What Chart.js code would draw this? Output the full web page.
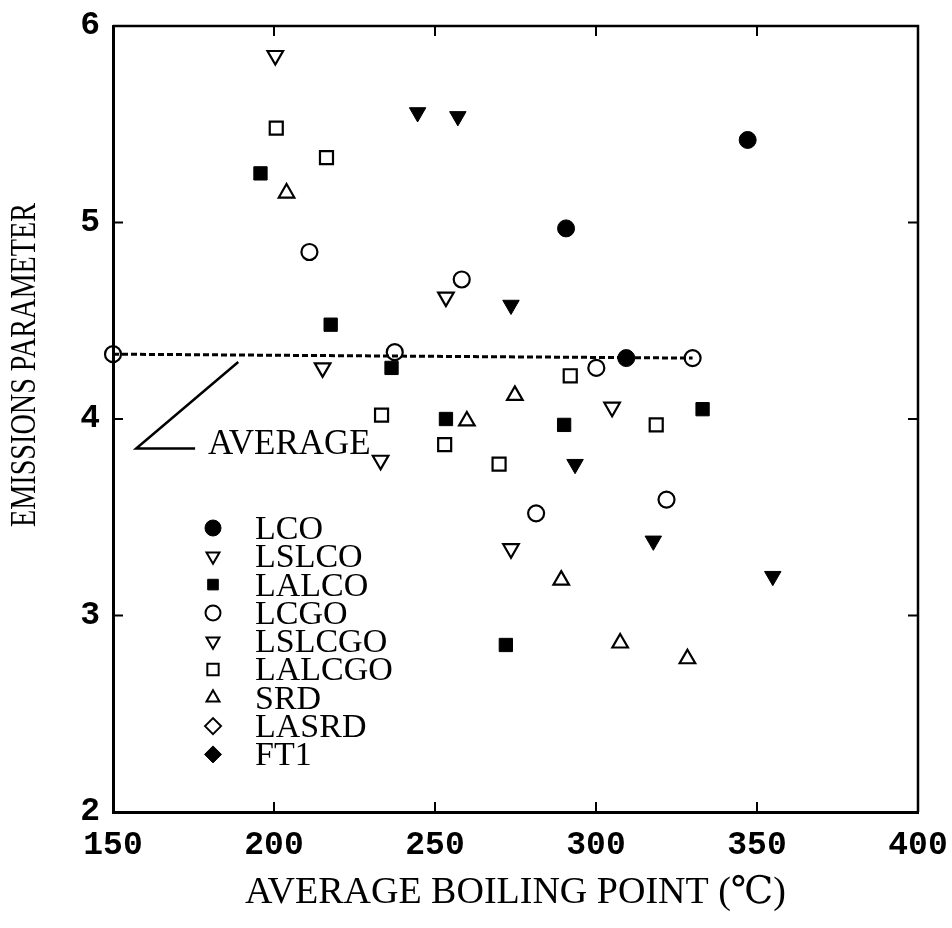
<!DOCTYPE html>
<html>
<head>
<meta charset="utf-8">
<title>Emissions parameter vs average boiling point</title>
<script src="https://cdn.jsdelivr.net/npm/chart.js@4.4.1/dist/chart.umd.min.js"></script>
<style>
    body { margin: 0; background: #ffffff; }
    #chartBox { width: 952px; height: 928px; }
</style>
</head>
<body>
<div id="chartBox"><canvas id="chart" width="952" height="928"></canvas></div>
<script>
// Legend names, in the order of the legend
var seriesNames = ["LCO", "LSLCO", "LALCO", "LCGO", "LSLCGO", "LALCGO", "SRD", "LASRD", "FT1"];

// Average boiling point (deg C) and emissions parameter of each fuel
var lcoX = [290.7, 309.4, 347.1];
var lcoY = [4.97, 4.31, 5.42];

var lslcoX = [200.4, 215.1, 233.1];
var lslcoY = [5.85, 4.26, 3.79];

var lalcoX = [195.8, 217.6, 236.5, 253.4, 272.0, 290.1, 333.1];
var lalcoY = [5.25, 4.48, 4.26, 4.00, 2.85, 3.97, 4.05];

var lcgoX = [150.0, 211.0, 237.5, 258.3, 281.4, 300.1, 321.9, 330.0];
var lcgoY = [4.33, 4.85, 4.34, 4.71, 3.52, 4.26, 3.59, 4.31];

var lslcgoX = [253.4, 273.6, 305.0];
var lslcgoY = [4.62, 3.34, 4.06];

var lalcgoX = [200.7, 216.3, 233.4, 253.0, 269.9, 292.0, 318.7];
var lalcgoY = [5.48, 5.33, 4.02, 3.87, 3.77, 4.22, 3.97];

var srdX = [203.9, 259.9, 274.8, 289.2, 307.5, 328.4];
var srdY = [5.15, 3.99, 4.12, 3.18, 2.86, 2.78];

var lasrdX = [];
var lasrdY = [];

var ft1X = [244.6, 257.1, 273.6, 293.5, 317.8, 354.9];
var ft1Y = [5.56, 5.54, 4.58, 3.77, 3.38, 3.20];

// Dashed average line and the pointer to its label
var averageX = [150, 330];
var averageY = [4.33, 4.31];
var pointerX = [188.9, 157.2, 175.5];
var pointerY = [4.29, 3.85, 3.85];
var averageLabel = "AVERAGE";
var averageLabelX = 179.5;
var averageLabelY = 3.82;

// Axis ticks
var xTicks = [150, 200, 250, 300, 350, 400];
var yTicks = [2, 3, 4, 5, 6];

var xTitle = "AVERAGE BOILING POINT (\u2103)";
var yTitle = "EMISSIONS PARAMETER";

function toPoints(xs, ys)
{
    return xs.map(function(x, i) {
        return { x: x, y: ys[i] };
    });
}

// Marker style of each series (plot and legend)
function markerSet(name, xs, ys, style, rotation, filled, radius)
{
    return {
        label: name,
        data: toPoints(xs, ys),
        pointStyle: style,
        rotation: rotation,
        pointRadius: radius,
        pointHoverRadius: radius,
        pointBackgroundColor: filled ? "#000000" : "rgba(0,0,0,0)",
        pointBorderColor: "#000000",
        pointBorderWidth: filled ? 1 : 2.2,
        showLine: false,
        clip: false,
        order: 0
    };
}

var legendMarkers = [
    { style: "circle", rotation: 0, filled: true, radius: 8 },
    { style: "triangle", rotation: 180, filled: false, radius: 7.5 },
    { style: "rect", rotation: 0, filled: true, radius: 7.5 },
    { style: "circle", rotation: 0, filled: false, radius: 7.5 },
    { style: "triangle", rotation: 180, filled: false, radius: 7.5 },
    { style: "rect", rotation: 0, filled: false, radius: 8 },
    { style: "triangle", rotation: 0, filled: false, radius: 7.5 },
    { style: "rectRot", rotation: 0, filled: false, radius: 8 },
    { style: "rectRot", rotation: 0, filled: true, radius: 8.5 }
];

var serifFont = "'Liberation Serif', 'DejaVu Serif', serif";
var tickFont = "'Liberation Mono', 'DejaVu Sans Mono', monospace";

function drawMarker(ctx, marker, x, y)
{
    ctx.save();
    ctx.fillStyle = marker.filled ? "#000000" : "rgba(0,0,0,0)";
    ctx.strokeStyle = "#000000";
    ctx.lineWidth = marker.filled ? 1 : 2;
    if (Chart.helpers && Chart.helpers.drawPoint)
    {
        Chart.helpers.drawPoint(ctx, {
            pointStyle: marker.style,
            rotation: marker.rotation,
            radius: marker.radius,
            borderWidth: ctx.lineWidth
        }, x, y);
    }
    else
    {
        ctx.beginPath();
        ctx.arc(x, y, marker.radius, 0, Math.PI * 2);
        ctx.fill();
        ctx.stroke();
    }
    ctx.restore();
}

// Frame, inward ticks, y title, the AVERAGE label and the legend
var extrasPlugin = {
    id: "extras",
    afterDatasetsDraw: function(chart)
    {
        var ctx = chart.ctx;
        var area = chart.chartArea;
        var xScale = chart.scales.x;
        var yScale = chart.scales.y;

        ctx.save();
        ctx.strokeStyle = "#000000";

        // top and right side of the frame
        ctx.lineWidth = 2.5;
        ctx.beginPath();
        ctx.moveTo(area.left, area.top);
        ctx.lineTo(area.right, area.top);
        ctx.lineTo(area.right, area.bottom);
        ctx.stroke();

        // inward tick marks
        ctx.lineWidth = 2;
        var tickLen = 10;
        xTicks.forEach(function(v) {
            if (v === xTicks[0] || v === xTicks[xTicks.length - 1]) return;
            var px = xScale.getPixelForValue(v);
            ctx.beginPath();
            ctx.moveTo(px, area.bottom);
            ctx.lineTo(px, area.bottom - tickLen);
            ctx.moveTo(px, area.top);
            ctx.lineTo(px, area.top + tickLen);
            ctx.stroke();
        });
        yTicks.forEach(function(v) {
            if (v === yTicks[0] || v === yTicks[yTicks.length - 1]) return;
            var py = yScale.getPixelForValue(v);
            ctx.beginPath();
            ctx.moveTo(area.left, py);
            ctx.lineTo(area.left + tickLen, py);
            ctx.moveTo(area.right, py);
            ctx.lineTo(area.right - tickLen, py);
            ctx.stroke();
        });

        ctx.fillStyle = "#000000";

        // label of the average line
        ctx.font = "35px " + serifFont;
        ctx.textAlign = "left";
        ctx.textBaseline = "alphabetic";
        ctx.fillText(averageLabel, xScale.getPixelForValue(averageLabelX),
            yScale.getPixelForValue(averageLabelY));

        // y axis title, set above the middle as in the original
        ctx.save();
        ctx.font = "35px " + serifFont;
        var squeeze = 324 / ctx.measureText(yTitle).width;
        ctx.translate(26, 365);
        ctx.rotate(-Math.PI / 2);
        ctx.scale(squeeze, 1);
        ctx.textAlign = "center";
        ctx.textBaseline = "middle";
        ctx.fillText(yTitle, 0, 0);
        ctx.restore();

        // legend inside the plot
        var legendX = area.left + 100;
        var legendY = area.top + 502;
        var rowGap = 28.3;
        ctx.font = "34px " + serifFont;
        ctx.textAlign = "left";
        ctx.textBaseline = "middle";
        seriesNames.forEach(function(name, i) {
            var y = legendY + i * rowGap;
            drawMarker(ctx, legendMarkers[i], legendX, y);
            ctx.fillStyle = "#000000";
            ctx.fillText(name, legendX + 42, y + 2);
        });

        ctx.restore();
    }
};

var datasets = [
    markerSet(seriesNames[0], lcoX, lcoY, "circle", 0, true, 8.5),
    markerSet(seriesNames[1], lslcoX, lslcoY, "triangle", 180, false, 9),
    markerSet(seriesNames[2], lalcoX, lalcoY, "rect", 0, true, 9.4),
    markerSet(seriesNames[3], lcgoX, lcgoY, "circle", 0, false, 8),
    markerSet(seriesNames[4], lslcgoX, lslcgoY, "triangle", 180, false, 9),
    markerSet(seriesNames[5], lalcgoX, lalcgoY, "rect", 0, false, 9.2),
    markerSet(seriesNames[6], srdX, srdY, "triangle", 0, false, 9),
    markerSet(seriesNames[7], lasrdX, lasrdY, "rectRot", 0, false, 9),
    markerSet(seriesNames[8], ft1X, ft1Y, "triangle", 180, true, 9.5),
    {
        label: "average",
        data: toPoints(averageX, averageY),
        showLine: true,
        borderColor: "#000000",
        borderWidth: 3,
        borderDash: [6, 3],
        pointRadius: 0,
        clip: false,
        order: 10
    },
    {
        label: "pointer",
        data: toPoints(pointerX, pointerY),
        showLine: true,
        borderColor: "#000000",
        borderWidth: 2.5,
        pointRadius: 0,
        clip: false,
        order: 10
    }
];

var ctx = document.getElementById("chart").getContext("2d");

var emissionsChart = new Chart(ctx, {
    type: "scatter",
    data: { datasets: datasets },
    options: {
        responsive: false,
        animation: false,
        devicePixelRatio: 1,
        layout: {
            padding: { top: 26, right: 34, left: 0, bottom: 0 }
        },
        plugins: {
            legend: { display: false },
            tooltip: { enabled: false }
        },
        scales: {
            x: {
                type: "linear",
                min: xTicks[0],
                max: xTicks[xTicks.length - 1],
                afterBuildTicks: function(scale) {
                    scale.ticks = xTicks.map(function(v) { return { value: v }; });
                },
                afterFit: function(scale) {
                    scale.height = 116;
                    scale.paddingLeft = 0;
                    scale.paddingRight = 0;
                },
                grid: { display: false, drawTicks: false },
                border: { display: true, color: "#000000", width: 3 },
                ticks: {
                    color: "#000000",
                    padding: 14,
                    maxRotation: 0,
                    font: { family: tickFont, size: 33, weight: "bold" }
                },
                title: {
                    display: true,
                    text: xTitle,
                    color: "#000000",
                    padding: { top: 0, bottom: 12 },
                    font: { family: serifFont, size: 38 }
                }
            },
            y: {
                type: "linear",
                min: yTicks[0],
                max: yTicks[yTicks.length - 1],
                afterBuildTicks: function(scale) {
                    scale.ticks = yTicks.map(function(v) { return { value: v }; });
                },
                afterFit: function(scale) {
                    scale.width = 113;
                    scale.paddingTop = 0;
                    scale.paddingBottom = 0;
                },
                grid: { display: false, drawTicks: false },
                border: { display: true, color: "#000000", width: 3 },
                ticks: {
                    color: "#000000",
                    padding: 13,
                    font: { family: tickFont, size: 33, weight: "bold" }
                }
            }
        }
    },
    plugins: [extrasPlugin]
});
</script>
</body>
</html>
